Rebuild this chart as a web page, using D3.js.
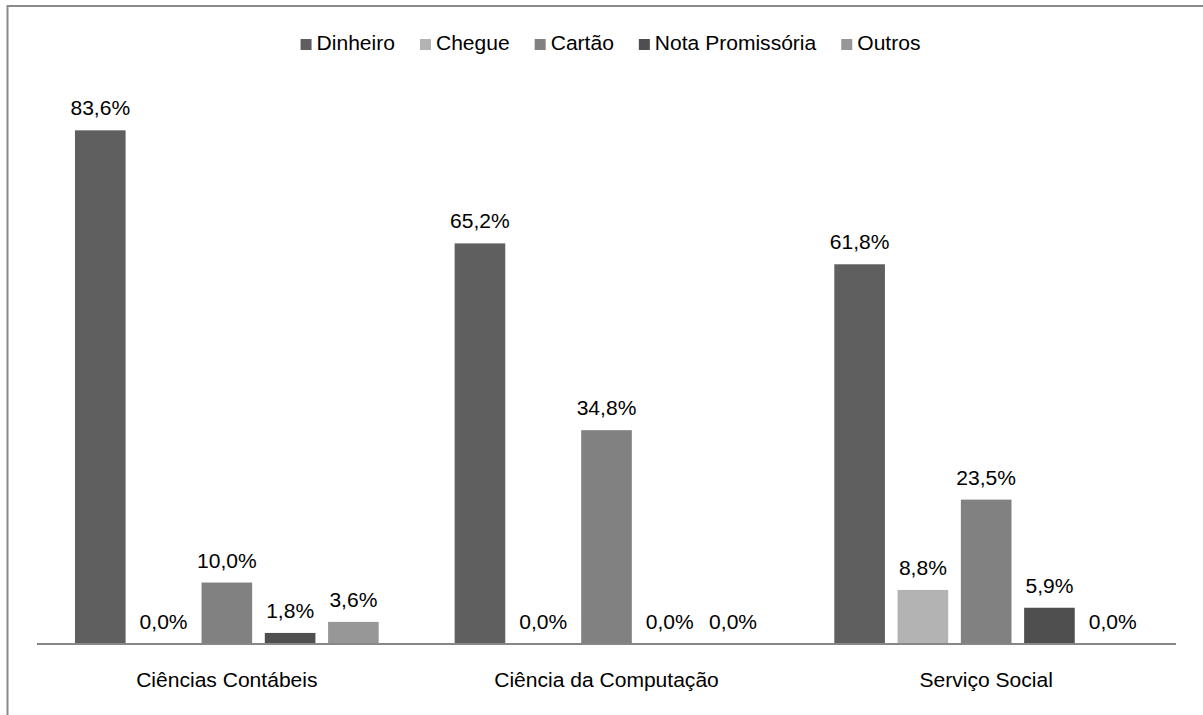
<!DOCTYPE html>
<html>
<head>
<meta charset="utf-8">
<script src="https://cdn.jsdelivr.net/npm/d3@7"></script>
<style>
  html, body { margin: 0; padding: 0; background: #fff; }
  svg { display: block; }
  text { font-family: "Liberation Sans", Arial, Helvetica, sans-serif; fill: #000; }
</style>
</head>
<body>
<svg id="chart" width="1203" height="715"></svg>
<script>
// Course groups on the x axis
const categories = ["Ciências Contábeis", "Ciência da Computação", "Serviço Social"];
// Payment methods (series)
const seriesNames = ["Dinheiro", "Chegue", "Cartão", "Nota Promissória", "Outros"];
const seriesColors = ["#5f5f5f", "#b3b3b3", "#818181", "#4f4f4f", "#979797"];
// Percentages per course, one array per payment method
const dinheiro = [83.6, 65.2, 61.8];
const chegue = [0.0, 0.0, 8.8];
const cartao = [10.0, 34.8, 23.5];
const notaPromissoria = [1.8, 0.0, 5.9];
const outros = [3.6, 0.0, 0.0];

const seriesValues = [dinheiro, chegue, cartao, notaPromissoria, outros];

const svg = d3.select("#chart");
const fontSize = 19.5;
const stretch = 1.08; // horizontal text stretch

const plot = { left: 37, right: 1176, baseline: 644, top: 91 };

// Outer frame (top and left edges visible)
svg.append("rect")
  .attr("x", 7.5).attr("y", 6)
  .attr("width", 1400).attr("height", 1000)
  .attr("fill", "none")
  .attr("stroke", "#8a8a8a")
  .attr("stroke-width", 2);

const x0 = d3.scaleBand()
  .domain(categories)
  .range([plot.left, plot.right])
  .paddingInner(0.2)
  .paddingOuter(0.1);

const x1 = d3.scaleBand()
  .domain(seriesNames)
  .range([0, x0.bandwidth()])
  .paddingInner(0.2)
  .paddingOuter(0);

const y = d3.scaleLinear()
  .domain([0, 90])
  .range([plot.baseline, plot.top]);

const fmt = v => d3.format(".1f")(v).replace(".", ",") + "%";

const rows = categories.map((c, i) => ({
  category: c,
  values: seriesNames.map((s, j) => ({ series: s, value: seriesValues[j][i], color: seriesColors[j] }))
}));

const groups = svg.append("g").selectAll("g")
  .data(rows)
  .join("g")
  .attr("transform", d => `translate(${x0(d.category)},0)`);

groups.selectAll("rect")
  .data(d => d.values)
  .join("rect")
  .attr("x", d => x1(d.series))
  .attr("y", d => y(d.value))
  .attr("width", x1.bandwidth())
  .attr("height", d => y(0) - y(d.value))
  .attr("fill", d => d.color);

groups.selectAll("text.val")
  .data(d => d.values)
  .join("text")
  .attr("class", "val")
  .attr("text-anchor", "middle")
  .attr("font-size", fontSize)
  .attr("transform", d => `translate(${x1(d.series) + x1.bandwidth() / 2},${y(d.value) - 15}) scale(${stretch},1)`)
  .text(d => fmt(d.value));

// Category axis
const xAxis = svg.append("g")
  .attr("transform", `translate(0,${plot.baseline})`)
  .call(d3.axisBottom(x0).tickSize(0).tickPadding(0));
xAxis.select(".domain")
  .attr("d", `M${plot.left},0H${plot.right}`)
  .attr("stroke", "#878787")
  .attr("stroke-width", 2);
xAxis.selectAll(".tick text")
  .attr("font-size", fontSize)
  .attr("font-family", "Liberation Sans, Arial, sans-serif")
  .attr("fill", "#000")
  .attr("dy", 0)
  .attr("y", 0)
  .attr("transform", `translate(0,43) scale(${stretch},1)`);

// Legend
const legend = svg.append("g");
const items = legend.selectAll("g")
  .data(seriesNames.map((s, i) => ({ name: s, color: seriesColors[i] })))
  .join("g");
items.append("rect")
  .attr("width", 11).attr("height", 11)
  .attr("y", -11)
  .attr("fill", d => d.color);
items.append("text")
  .attr("font-size", fontSize)
  .attr("transform", `translate(16,0) scale(${stretch},1)`)
  .attr("y", 0)
  .text(d => d.name);

const legendGap = 25;
let cursor = 0;
items.each(function () {
  const t = d3.select(this).select("text").node();
  const w = t.getComputedTextLength() * stretch;
  d3.select(this).attr("data-x", cursor);
  cursor += 16 + w + legendGap;
});
const total = cursor - legendGap;
const startX = 610.5 - total / 2;
items.attr("transform", function () {
  return `translate(${startX + (+this.getAttribute("data-x"))},50)`;
});
</script>
</body>
</html>
